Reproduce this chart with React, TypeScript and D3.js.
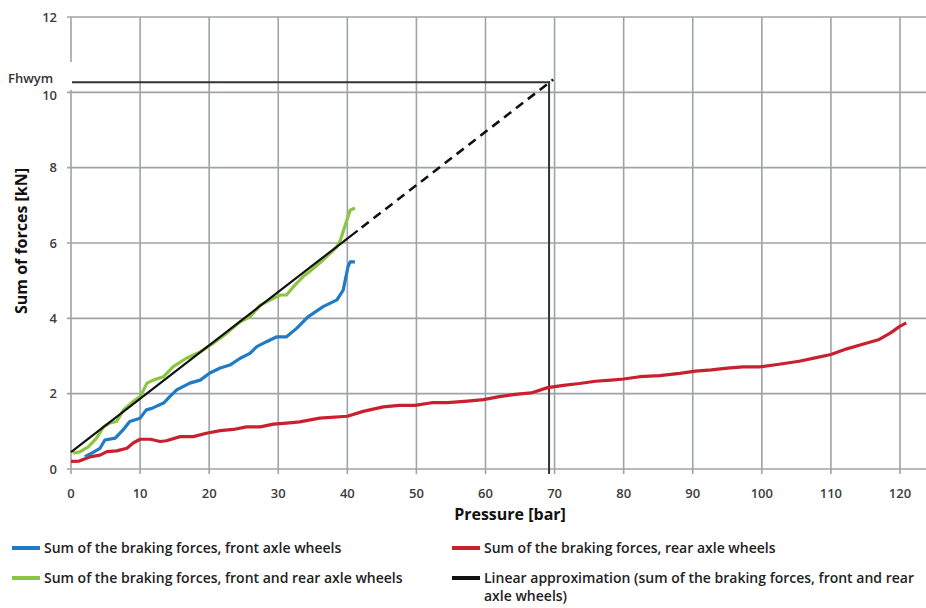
import React from "react";
import * as d3 from "d3";

const xTicks = [0, 10, 20, 30, 40, 50, 60, 70, 80, 90, 100, 110, 120];
const yTicks = [0, 2, 4, 6, 8, 10, 12];

const frontX = [2.0, 3.0, 4.2, 4.9, 6.4, 7.5, 8.5, 10.0, 10.9, 11.7, 13.4, 14.3, 15.3, 17.2, 18.7, 20.1, 21.6, 23.0, 24.5, 25.9, 26.9, 28.3, 29.8, 31.2, 32.7, 34.3, 36.5, 38.5, 39.4, 40.1, 40.4, 41.1];
const frontY = [0.33, 0.42, 0.55, 0.77, 0.82, 1.03, 1.26, 1.35, 1.57, 1.61, 1.75, 1.92, 2.10, 2.28, 2.36, 2.55, 2.68, 2.76, 2.94, 3.07, 3.25, 3.38, 3.51, 3.51, 3.74, 4.04, 4.31, 4.49, 4.75, 5.37, 5.50, 5.50];

const totalX = [0.3, 1.2, 2.5, 3.7, 4.7, 5.6, 6.6, 7.6, 9.0, 10.0, 11.0, 11.9, 13.4, 14.8, 16.7, 18.7, 20.6, 22.5, 24.5, 25.9, 27.4, 29.3, 30.3, 31.2, 32.2, 33.6, 34.6, 36.5, 38.5, 39.0, 40.4, 41.1];
const totalY = [0.42, 0.45, 0.59, 0.82, 1.12, 1.22, 1.26, 1.57, 1.79, 1.92, 2.28, 2.36, 2.45, 2.72, 2.94, 3.11, 3.34, 3.60, 3.91, 4.04, 4.35, 4.53, 4.62, 4.62, 4.84, 5.11, 5.25, 5.55, 5.90, 6.08, 6.87, 6.93];

const rearX = [0, 1.2, 2.7, 4.2, 5.2, 6.6, 8.1, 9.0, 10.0, 11.5, 12.9, 13.8, 15.8, 17.7, 19.6, 21.6, 23.5, 25.4, 27.4, 29.3, 31.2, 33.1, 36.0, 40.0, 42.3, 45.2, 47.5, 49.8, 52.2, 54.5, 57.4, 59.7, 62.0, 64.3, 66.6, 69.0, 71.3, 73.6, 75.9, 78.2, 80.0, 82.3, 85.2, 88.1, 90.4, 92.7, 95.0, 97.3, 99.6, 102.5, 105.4, 107.7, 110.0, 112.3, 114.6, 117.0, 118.7, 119.9, 120.9];
const rearY = [0.20, 0.21, 0.32, 0.37, 0.46, 0.48, 0.55, 0.69, 0.79, 0.79, 0.73, 0.75, 0.86, 0.86, 0.95, 1.02, 1.05, 1.12, 1.12, 1.19, 1.22, 1.25, 1.35, 1.40, 1.53, 1.65, 1.69, 1.69, 1.76, 1.76, 1.80, 1.84, 1.92, 1.98, 2.02, 2.16, 2.22, 2.27, 2.33, 2.36, 2.39, 2.45, 2.48, 2.54, 2.60, 2.63, 2.68, 2.71, 2.71, 2.78, 2.86, 2.95, 3.04, 3.19, 3.31, 3.44, 3.62, 3.78, 3.88];

const linearSolidX = [0, 41.5];
const linearSolidY = [0.45, 6.33];
const linearDashX = [41.5, 69.8];
const linearDashY = [6.33, 10.34];

const fhwymValue = 10.27;
const fhwymPressure = 69.2;
const fhwymLabel = "Fhwym";

const legendItems = [
  { label: ["Sum of the braking forces, front axle wheels"], color: "#1f7bc6" },
  { label: ["Sum of the braking forces, rear axle wheels"], color: "#c9202f" },
  { label: ["Sum of the braking forces, front and rear axle wheels"], color: "#8cc540" },
  { label: ["Linear approximation (sum of the braking forces, front and rear", "axle wheels)"], color: "#111111" },
];

const W = 926;
const H = 608;
const FONT = "'Open Sans', 'DejaVu Sans', sans-serif";

export default function App() {
  const x = d3.scaleLinear().domain([0, 120]).range([71, 900]);
  const y = d3.scaleLinear().domain([0, 12]).range([469, 17]);
  const line = d3
    .line<[number, number]>()
    .x((d) => x(d[0]))
    .y((d) => y(d[1]))
    .curve(d3.curveLinear);
  const zip = (a: number[], b: number[]) => a.map((v, i) => [v, b[i]] as [number, number]);

  const gridColor = "#9ea3a8";
  const tickColor = "#3c3c3c";
  const x0 = x(0);

  const legendPos = [
    { lx: 12, ty: 548 },
    { lx: 452, ty: 548 },
    { lx: 12, ty: 578 },
    { lx: 452, ty: 578 },
  ];

  return (
    <svg
      width={W}
      height={H}
      style={{ position: "absolute", left: 0, top: 0, background: "#fff" }}
      fontFamily={FONT}
    >
      <rect x={0} y={0} width={W} height={H} fill="#fff" />
      {yTicks.map((t) => (
        <line key={"hy" + t} x1={x0 - 4} x2={W} y1={y(t)} y2={y(t)} stroke={gridColor} strokeWidth={1.6} />
      ))}
      {xTicks.map((t) =>
        t === 0 ? (
          <g key={"vx" + t}>
            <line x1={x0} x2={x0} y1={y(12)} y2={62} stroke={gridColor} strokeWidth={1.6} />
            <line x1={x0} x2={x0} y1={90} y2={y(0) + 5} stroke={gridColor} strokeWidth={1.6} />
          </g>
        ) : (
          <line key={"vx" + t} x1={x(t)} x2={x(t)} y1={y(12)} y2={y(0) + 5} stroke={gridColor} strokeWidth={1.6} />
        )
      )}
      {yTicks.map((t) => (
        <text
          key={"ty" + t}
          x={57}
          y={y(t) + (t === 10 ? 3 : 0)}
          dy="0.35em"
          textAnchor="end"
          fontSize={13}
          fontWeight={600}
          fill={tickColor}
        >
          {t}
        </text>
      ))}
      {xTicks.map((t) => (
        <text
          key={"tx" + t}
          x={x(t)}
          y={493}
          dy="0.35em"
          textAnchor="middle"
          fontSize={13}
          fontWeight={600}
          fill={tickColor}
        >
          {t}
        </text>
      ))}
      <text x={8} y={78} dy="0.35em" fontSize={13} fontWeight={600} fill="#333">
        {fhwymLabel}
      </text>
      <line x1={x0 + 1} x2={x(fhwymPressure) + 1} y1={y(fhwymValue)} y2={y(fhwymValue)} stroke="#333" strokeWidth={2} />
      <line x1={x(fhwymPressure)} x2={x(fhwymPressure)} y1={y(fhwymValue) - 1} y2={y(0) + 5} stroke="#333" strokeWidth={2} />

      <path d={line(zip(rearX, rearY)) || ""} fill="none" stroke="#c9202f" strokeWidth={3.2} strokeLinejoin="round" />
      <path d={line(zip(frontX, frontY)) || ""} fill="none" stroke="#1f7bc6" strokeWidth={3.2} strokeLinejoin="round" />
      <path d={line(zip(totalX, totalY)) || ""} fill="none" stroke="#8cc540" strokeWidth={3.2} strokeLinejoin="round" />
      <path d={line(zip(linearSolidX, linearSolidY)) || ""} fill="none" stroke="#111" strokeWidth={2.2} />
      <path
        d={line(zip(linearDashX, linearDashY)) || ""}
        fill="none"
        stroke="#111"
        strokeWidth={2.6}
        strokeDasharray="9,6"
        strokeDashoffset={-5}
      />

      <text
        transform={`translate(21,${241}) rotate(-90)`}
        textAnchor="middle"
        dy="0.35em"
        fontSize={16}
        fontWeight={700}
        fill="#111"
      >
        Sum of forces [kN]
      </text>
      <text x={510} y={514} dy="0.35em" textAnchor="middle" fontSize={16} fontWeight={700} fill="#111">
        Pressure [bar]
      </text>

      {legendItems.map((it, i) => (
        <g key={"lg" + i}>
          <line
            x1={legendPos[i].lx}
            x2={legendPos[i].lx + 28}
            y1={legendPos[i].ty}
            y2={legendPos[i].ty}
            stroke={it.color}
            strokeWidth={4}
          />
          {it.label.map((l, j) => (
            <text
              key={j}
              x={legendPos[i].lx + 32}
              y={legendPos[i].ty + j * 18}
              dy="0.35em"
              fontSize={14}
              fontWeight={600}
              fill="#222"
            >
              {l}
            </text>
          ))}
        </g>
      ))}
    </svg>
  );
}
